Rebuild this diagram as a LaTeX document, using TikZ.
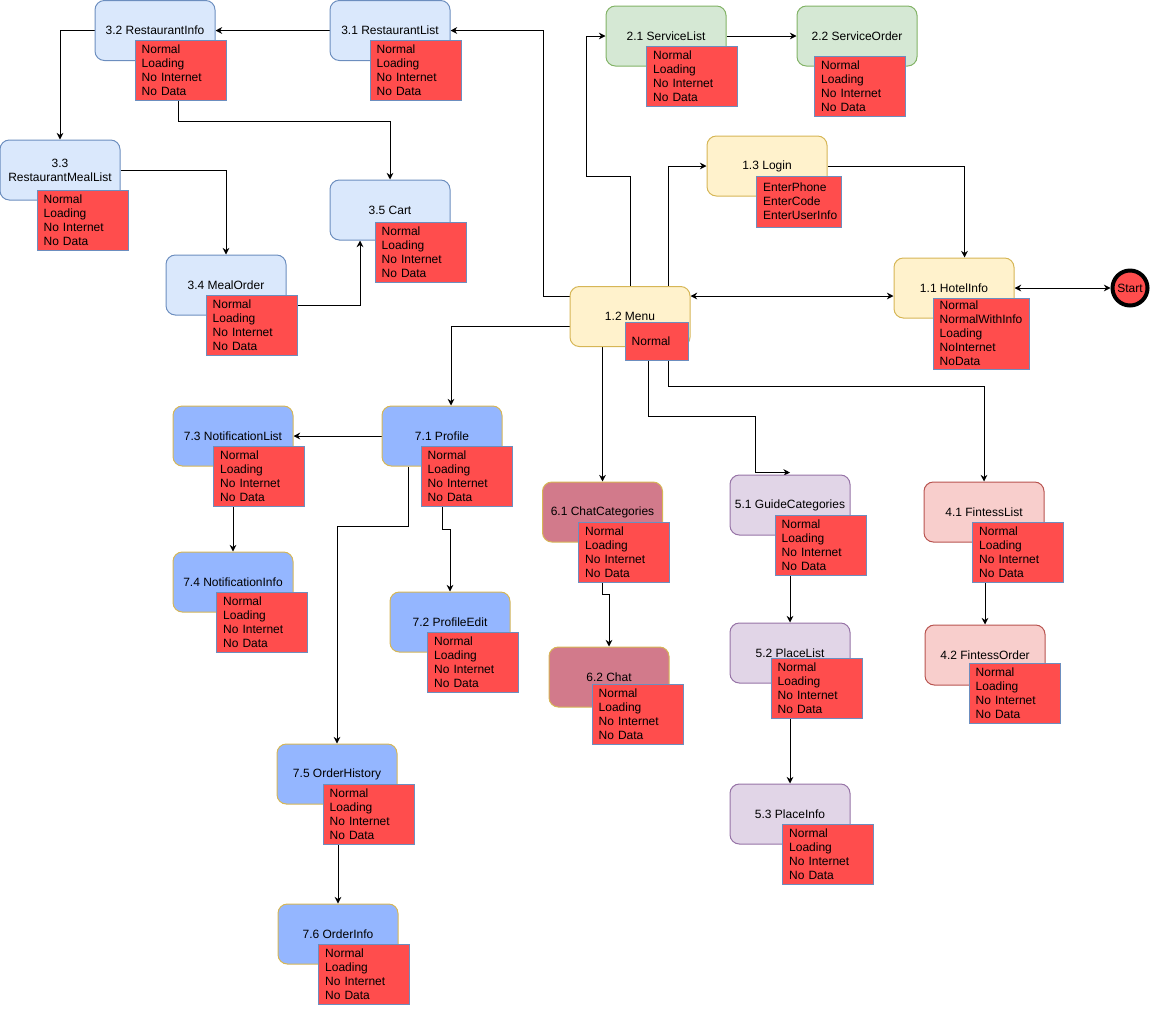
\documentclass[tikz,border=0pt]{standalone}
\usepackage{fontspec}
\setmainfont{Liberation Sans}
\usetikzlibrary{arrows.meta,calc,backgrounds}

\definecolor{yfill}{HTML}{FFF2CC}
\definecolor{yline}{HTML}{D6B656}
\definecolor{bfill}{HTML}{DAE8FC}
\definecolor{bline}{HTML}{6C8EBF}
\definecolor{gfill}{HTML}{D5E8D4}
\definecolor{gline}{HTML}{82B366}
\definecolor{pfill}{HTML}{94B6FF}
\definecolor{cfill}{HTML}{D27A8B}
\definecolor{vfill}{HTML}{E1D5E7}
\definecolor{vline}{HTML}{9673A6}
\definecolor{ffill}{HTML}{F8CECC}
\definecolor{fline}{HTML}{B85450}
\definecolor{sfill}{HTML}{FF4D4D}

\begin{document}
\begin{tikzpicture}[x=0.75pt, y=-0.75pt, >={Stealth[length=5pt,width=5pt]},
  screen/.style={draw, line width=0.75pt, rounded corners=7pt, minimum width=90pt,
    minimum height=45pt, inner sep=1pt, align=center, font=\fontsize{9}{10.5}\selectfont},
  hotelbox/.style={screen, fill=yfill, draw=yline},
  restbox/.style={screen, fill=bfill, draw=bline},
  servbox/.style={screen, fill=gfill, draw=gline},
  userbox/.style={screen, fill=pfill, draw=yline},
  chatbox/.style={screen, fill=cfill, draw=yline},
  guidebox/.style={screen, fill=vfill, draw=vline},
  fitbox/.style={screen, fill=ffill, draw=fline},
  states/.style={draw=bline, fill=sfill, line width=0.75pt, align=left, text width=58.25pt,
    inner xsep=5pt, inner ysep=0pt, minimum height=45pt, font=\fontsize{9}{10.5}\selectfont},
  startnode/.style={circle, draw=black, line width=3pt, fill=sfill, minimum size=26.25pt,
    inner sep=0pt, font=\fontsize{9}{10.5}\selectfont},
  conn/.style={->, line width=0.75pt},
  twoway/.style={<->, line width=0.75pt}]
\useasboundingbox (0,0) rectangle (1151,1015);

\node[restbox] (rinfo) at (155,30.5) {3.2 RestaurantInfo};
\node[restbox] (rlist) at (390,30.5) {3.1 RestaurantList};
\node[restbox] (rmeals) at (60,170) {3.3\\RestaurantMealList};
\node[restbox] (cart) at (390,210) {3.5 Cart};
\node[restbox] (morder) at (226,285) {3.4 MealOrder};
\node[servbox] (srvlist) at (666,36) {2.1 ServiceList};
\node[servbox] (srvorder) at (857,36) {2.2 ServiceOrder};
\node[hotelbox] (login) at (767,166) {1.3 Login};
\node[hotelbox] (hotel) at (954,288) {1.1 HotelInfo};
\node[hotelbox] (menu) at (630,316.5) {1.2 Menu};
\node[startnode] (start) at (1130,288) {Start};
\node[userbox] (nlist) at (233,436) {7.3 NotificationList};
\node[userbox] (profile) at (442,436) {7.1 Profile};
\node[userbox] (ninfo) at (233,582) {7.4 NotificationInfo};
\node[userbox] (pedit) at (450,622) {7.2 ProfileEdit};
\node[userbox] (ohist) at (337,774) {7.5 OrderHistory};
\node[userbox] (oinfo) at (338,934) {7.6 OrderInfo};
\node[chatbox] (chatcat) at (602.5,512) {6.1 ChatCategories};
\node[chatbox] (chat) at (609,677) {6.2 Chat};
\node[guidebox] (guide) at (790,505) {5.1 GuideCategories};
\node[guidebox] (places) at (790,653) {5.2 PlaceList};
\node[guidebox] (place) at (790,814) {5.3 PlaceInfo};
\node[fitbox] (flist) at (984,512) {4.1 FintessList};
\node[fitbox] (forder) at (985,655) {4.2 FintessOrder};

\node[states] (rinfoS) at (180.5,70.5) {Normal\\Loading\\No Internet\\No Data};
\node[states] (rlistS) at (415.5,70.5) {Normal\\Loading\\No Internet\\No Data};
\node[states] (rmealsS) at (82.5,220) {Normal\\Loading\\No Internet\\No Data};
\node[states] (cartS) at (420.5,252) {Normal\\Loading\\No Internet\\No Data};
\node[states] (morderS) at (251.5,325) {Normal\\Loading\\No Internet\\No Data};
\node[states] (srvlistS) at (692,76.5) {Normal\\Loading\\No Internet\\No Data};
\node[states] (srvorderS) at (860,86) {Normal\\Loading\\No Internet\\No Data};
\node[states, text width=53.75pt, minimum height=38.25pt] (loginS) at (799,201.5) {EnterPhone\\EnterCode\\EnterUserInfo};
\node[states, text width=62pt, minimum height=53.25pt] (hotelS) at (981,333.5) {Normal\\NormalWithInfo\\Loading\\NoInternet\\NoData};
\node[states, text width=37.25pt, minimum height=28.5pt] (menuS) at (656.5,341) {Normal};
\node[states] (nlistS) at (259,476) {Normal\\Loading\\No Internet\\No Data};
\node[states] (profileS) at (466.5,476) {Normal\\Loading\\No Internet\\No Data};
\node[states] (ninfoS) at (262,622) {Normal\\Loading\\No Internet\\No Data};
\node[states] (peditS) at (473,662) {Normal\\Loading\\No Internet\\No Data};
\node[states] (chatcatS) at (624,552) {Normal\\Loading\\No Internet\\No Data};
\node[states] (chatS) at (637.5,714) {Normal\\Loading\\No Internet\\No Data};
\node[states] (guideS) at (820.5,545.5) {Normal\\Loading\\No Internet\\No Data};
\node[states] (placesS) at (816.5,688) {Normal\\Loading\\No Internet\\No Data};
\node[states] (placeS) at (828,854) {Normal\\Loading\\No Internet\\No Data};
\node[states] (flistS) at (1018,552) {Normal\\Loading\\No Internet\\No Data};
\node[states] (forderS) at (1014.5,693) {Normal\\Loading\\No Internet\\No Data};
\node[states] (ohistS) at (368.5,814) {Normal\\Loading\\No Internet\\No Data};
\node[states] (oinfoS) at (364,974) {Normal\\Loading\\No Internet\\No Data};

\begin{scope}[on background layer]
\draw [twoway] (hotel.east) -- (start.west);
\draw [conn] (login.east) -| ($(hotel.north)+(10.5,0)$);
\draw [twoway] ($(menu.east)+(0,-20.5)$) -- ($(hotel.west)+(0,8)$);
\draw [conn] ($(menu.north)+(38,0)$) |- (login.west);
\draw [conn] (menu.north) -- ++(0,-110) -- ++(-44,0) |- (srvlist.west);
\draw [conn] ($(menu.west)+(0,-20.5)$) -- ++(-26,0) |- (rlist.east);
\draw [conn] ($(menu.west)+(0,10)$) -| ($(profile.north)+(9,0)$);
\draw [conn] (menu.south -| chatcat.north) -- (chatcat.north);
\draw [conn] ($(menuS.south)+(-8,0)$) -- ++(0,55.5) -| ($(guide.north)+(-35,-2)$) -- ($(guide.north)+(0,-2)$);
\draw [conn] ($(menuS.south)+(12,0)$) -- ++(0,26) -| (flist.north);
\draw [conn] (rlist.west) -- (rinfo.east);
\draw [conn] (rinfo.west) -| (rmeals.north);
\draw [conn] ($(rinfoS.south)+(-2,0)$) -- ++(0,20) -| (cart.north);
\draw [conn] (rmeals.east) -| (morder.north);
\draw [conn] ($(morderS.east)+(0,-20)$) -| ($(cart.south)+(-30,0)$);
\draw [conn] (srvlist.east) -- (srvorder.west);
\draw [conn] (profile.west) -- (nlist.east);
\draw [conn] (nlistS.south -| ninfo.north) -- (ninfo.north);
\draw [conn] ($(profile.south)+(-34,0)$) -- ++(0,60) -| (ohist.north);
\draw [conn] ($(profileS.south)+(-24,0)$) -- ++(0,23) -| (pedit.north);
\draw [conn] ($(chatcatS.south)+(-21.5,0)$) -- ++(0,12) -| (chat.north);
\draw [conn] (guideS.south -| places.north) -- (places.north);
\draw [conn] (placesS.south -| place.north) -- (place.north);
\draw [conn] (flistS.south -| forder.north) -- (forder.north);
\draw [conn] (ohistS.south -| oinfo.north) -- (oinfo.north);
\end{scope}
\end{tikzpicture}
\end{document}
